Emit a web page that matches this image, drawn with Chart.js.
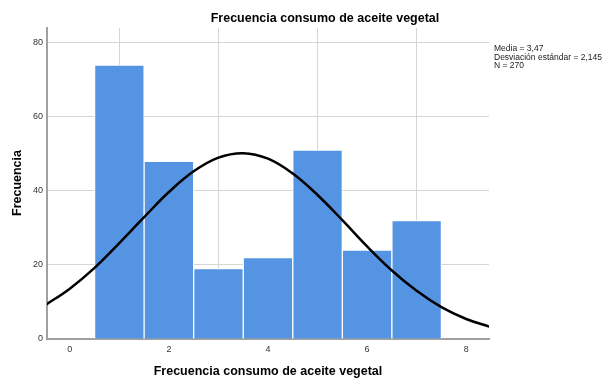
<!DOCTYPE html>
<html>
<head>
<meta charset="utf-8">
<script src="https://cdn.jsdelivr.net/npm/chart.js@4"></script>
<style>
  html, body { margin: 0; padding: 0; background: #fff; }
</style>
</head>
<body>
<canvas id="chart" width="604" height="379"></canvas>
<script>
const chartTitle = "Frecuencia consumo de aceite vegetal";
const xTitle = "Frecuencia consumo de aceite vegetal";
const yTitle = "Frecuencia";
const statsLines = ["Media = 3,47", "Desviación estándar = 2,145", "N = 270"];

// histogram bins (centered on the integer values)
const binCenters = [1, 2, 3, 4, 5, 6, 7];
const binCounts = [74, 48, 19, 22, 51, 24, 32];

// normal curve
const curveX = [-0.5, 0, 0.5, 1, 1.5, 2, 2.5, 3, 3.5, 4, 4.5, 5, 5.5, 6, 6.5, 7, 7.5, 8, 8.5];
const curveY = [9.1, 13.6, 19.2, 25.9, 32.9, 39.7, 45.3, 49.0, 50.2, 48.7, 44.7, 38.9, 32.1, 25.0, 18.5, 13.0, 8.6, 5.4, 3.2];

const FONT = "'Liberation Sans', Arial, sans-serif";

// titles and the stats box are drawn by hand so they land where SPSS puts them
const textPlugin = {
  id: "spssText",
  afterDraw(chart) {
    const ctx = chart.ctx;
    const area = chart.chartArea;
    ctx.save();
    ctx.fillStyle = "#000";
    ctx.font = "bold 12.5px " + FONT;
    ctx.textAlign = "center";
    ctx.textBaseline = "middle";
    ctx.fillText(chartTitle, 325, 19);
    ctx.fillText(xTitle, (area.left + area.right) / 2, 372);

    ctx.translate(18, 183);
    ctx.rotate(-Math.PI / 2);
    ctx.fillText(yTitle, 0, 0);
    ctx.restore();

    ctx.save();
    ctx.fillStyle = "#222";
    ctx.font = "8.5px " + FONT;
    ctx.textAlign = "left";
    ctx.textBaseline = "middle";
    statsLines.forEach((line, i) => {
      ctx.fillText(line, 494, 49 + i * 8.5);
    });
    ctx.restore();
  },
};

const config = {
  type: "bar",
  data: {
    datasets: [
      {
        type: "line",
        data: curveX.map((x, i) => ({ x, y: curveY[i] })),
        borderColor: "#000",
        borderWidth: 2.5,
        pointRadius: 0,
        tension: 0.4,
        fill: false,
        order: 0,
      },
      {
        type: "bar",
        data: binCenters.map((x, i) => ({ x, y: binCounts[i] })),
        backgroundColor: "#5594e3",
        borderColor: "#fff",
        borderWidth: 1,
        barPercentage: 1,
        categoryPercentage: 1,
        order: 1,
      },
    ],
  },
  options: {
    responsive: false,
    animation: false,
    events: [],
    layout: {
      padding: { top: 28, right: 115, left: 0, bottom: 0 },
    },
    plugins: {
      legend: { display: false },
      title: { display: false },
      tooltip: { enabled: false },
    },
    scales: {
      x: {
        type: "linear",
        min: -0.46,
        max: 8.46,
        offset: false,
        grid: { color: "#d6d6d6", lineWidth: 1, drawTicks: false },
        border: { color: "#a0a0a0", width: 2 },
        ticks: {
          stepSize: 2,
          includeBounds: false,
          padding: 5,
          color: "#333",
          font: { size: 9, family: FONT },
        },
        afterFit(scale) {
          scale.height = 40;
        },
      },
      y: {
        min: 0,
        max: 84,
        grid: { color: "#d6d6d6", lineWidth: 1, drawTicks: false },
        border: { color: "#a0a0a0", width: 2 },
        ticks: {
          stepSize: 20,
          includeBounds: false,
          padding: 4,
          color: "#333",
          font: { size: 9, family: FONT },
        },
        afterFit(scale) {
          scale.width = 47;
        },
      },
    },
  },
  plugins: [textPlugin],
};

new Chart(document.getElementById("chart"), config);
</script>
</body>
</html>
